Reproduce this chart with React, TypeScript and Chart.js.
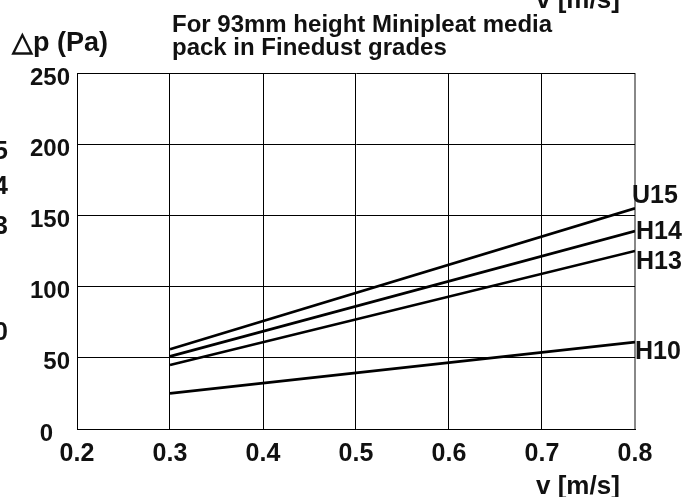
import React, { useEffect, useRef } from "react";
import { Chart, registerables } from "chart.js";

Chart.register(...registerables);

// ---- data ----
const velocities = [0.3, 0.8];
const u15 = [56, 155];
const h14 = [51, 139];
const h13 = [45, 125];
const h10 = [25, 61];
const seriesNames = ["U15", "H14", "H13", "H10"];
const seriesValues = [u15, h14, h13, h10];
const xTicks = [0.2, 0.3, 0.4, 0.5, 0.6, 0.7, 0.8];
const yTicks = [0, 50, 100, 150, 200, 250];
const xTickLabels = ["0.2", "0.3", "0.4", "0.5", "0.6", "0.7", "0.8"];
const yTickLabels = ["0", "50", "100", "150", "200", "250"];
const titleLines = ["For 93mm height Minipleat media", "pack in Finedust grades"];
const yAxisTitle = "\u25B3p (Pa)";
const xAxisTitle = "v [m/s]";
// fragments of the neighbouring chart visible at the edges of the scan
const leftFragments = ["U15", "H14", "H13", "H10"];

// ---- style ----
const FONT = '"Liberation Sans", Arial, sans-serif';
const labelDx = [-3, 1, 1, 0];
const labelDy = [-12, 1, 11, 10];
const fragmentY = [152, 187, 227, 333];

const textPlugin = {
  id: "textPlugin",
  afterDraw(chart: any) {
    const ctx = chart.ctx as CanvasRenderingContext2D;
    const xs = chart.scales.x;
    const ys = chart.scales.y;
    ctx.save();
    ctx.fillStyle = "#111";

    // y tick labels
    ctx.font = `bold 24px ${FONT}`;
    ctx.textAlign = "right";
    ctx.textBaseline = "middle";
    yTicks.forEach((v, i) => {
      const py = ys.getPixelForValue(v);
      if (v === 0) {
        ctx.fillText(yTickLabels[i], 53, py + 5);
      } else {
        ctx.fillText(yTickLabels[i], 70, py + 5);
      }
    });

    // x tick labels
    ctx.font = `bold 25px ${FONT}`;
    ctx.textAlign = "center";
    xTicks.forEach((v, i) => {
      const px = xs.getPixelForValue(v);
      ctx.fillText(xTickLabels[i], px, 454);
    });

    // axis titles
    ctx.textAlign = "left";
    ctx.textBaseline = "alphabetic";
    ctx.font = `bold 26px ${FONT}`;
    ctx.fillText(xAxisTitle, 536, 494);
    ctx.fillText(xAxisTitle, 536, 8);
    ctx.font = `bold 27px ${FONT}`;
    ctx.fillText(yAxisTitle, 12, 51);

    // title
    ctx.font = `bold 24px ${FONT}`;
    ctx.fillText(titleLines[0], 172, 32);
    ctx.fillText(titleLines[1], 172, 55);

    // series labels at line ends
    ctx.font = `bold 25px ${FONT}`;
    ctx.textBaseline = "middle";
    seriesValues.forEach((vals, i) => {
      const px = xs.getPixelForValue(velocities[velocities.length - 1]);
      const py = ys.getPixelForValue(vals[vals.length - 1]);
      ctx.fillText(seriesNames[i], px + labelDx[i], py + labelDy[i]);
    });

    // left edge fragments
    ctx.textAlign = "right";
    leftFragments.forEach((t, i) => {
      ctx.fillText(t, 8, fragmentY[i]);
    });
    ctx.restore();
  },
};

export default function App() {
  const ref = useRef<HTMLCanvasElement | null>(null);
  useEffect(() => {
    if (!ref.current) return;
    const chart = new Chart(ref.current, {
      type: "line",
      data: {
        datasets: seriesValues.map((vals, i) => ({
          label: seriesNames[i],
          data: velocities.map((x, j) => ({ x, y: vals[j] })),
          borderColor: "#000",
          borderWidth: 2.6,
          pointRadius: 0,
          tension: 0,
          fill: false,
        })),
      },
      options: {
        animation: false,
        responsive: false,
        events: [],
        layout: { padding: { left: 77, right: 61, top: 73, bottom: 68 } },
        plugins: {
          legend: { display: false },
          tooltip: { enabled: false },
          title: { display: false },
        },
        scales: {
          x: {
            type: "linear",
            min: 0.2,
            max: 0.8,
            afterBuildTicks: (axis: any) => {
              axis.ticks = xTicks.map((v) => ({ value: v }));
            },
            ticks: { display: false },
            grid: {
              drawTicks: false,
              color: (c: any) => (c.tick && c.tick.value === 0.8 ? "#888" : "#000"),
              lineWidth: (c: any) => (c.tick && c.tick.value === 0.8 ? 2 : 1),
            },
            border: { color: "#000", width: 1 },
          },
          y: {
            type: "linear",
            min: 0,
            max: 250,
            afterBuildTicks: (axis: any) => {
              axis.ticks = yTicks.map((v) => ({ value: v }));
            },
            ticks: { display: false },
            grid: { drawTicks: false, color: "#000", lineWidth: 1 },
            border: { color: "#000", width: 1 },
          },
        },
      },
      plugins: [textPlugin],
    });
    return () => chart.destroy();
  }, []);
  return (
    <div style={{ position: "fixed", left: 0, top: 0, width: 696, height: 497, background: "#fff" }}>
      <canvas ref={ref} width={696} height={497} style={{ display: "block" }} />
    </div>
  );
}
